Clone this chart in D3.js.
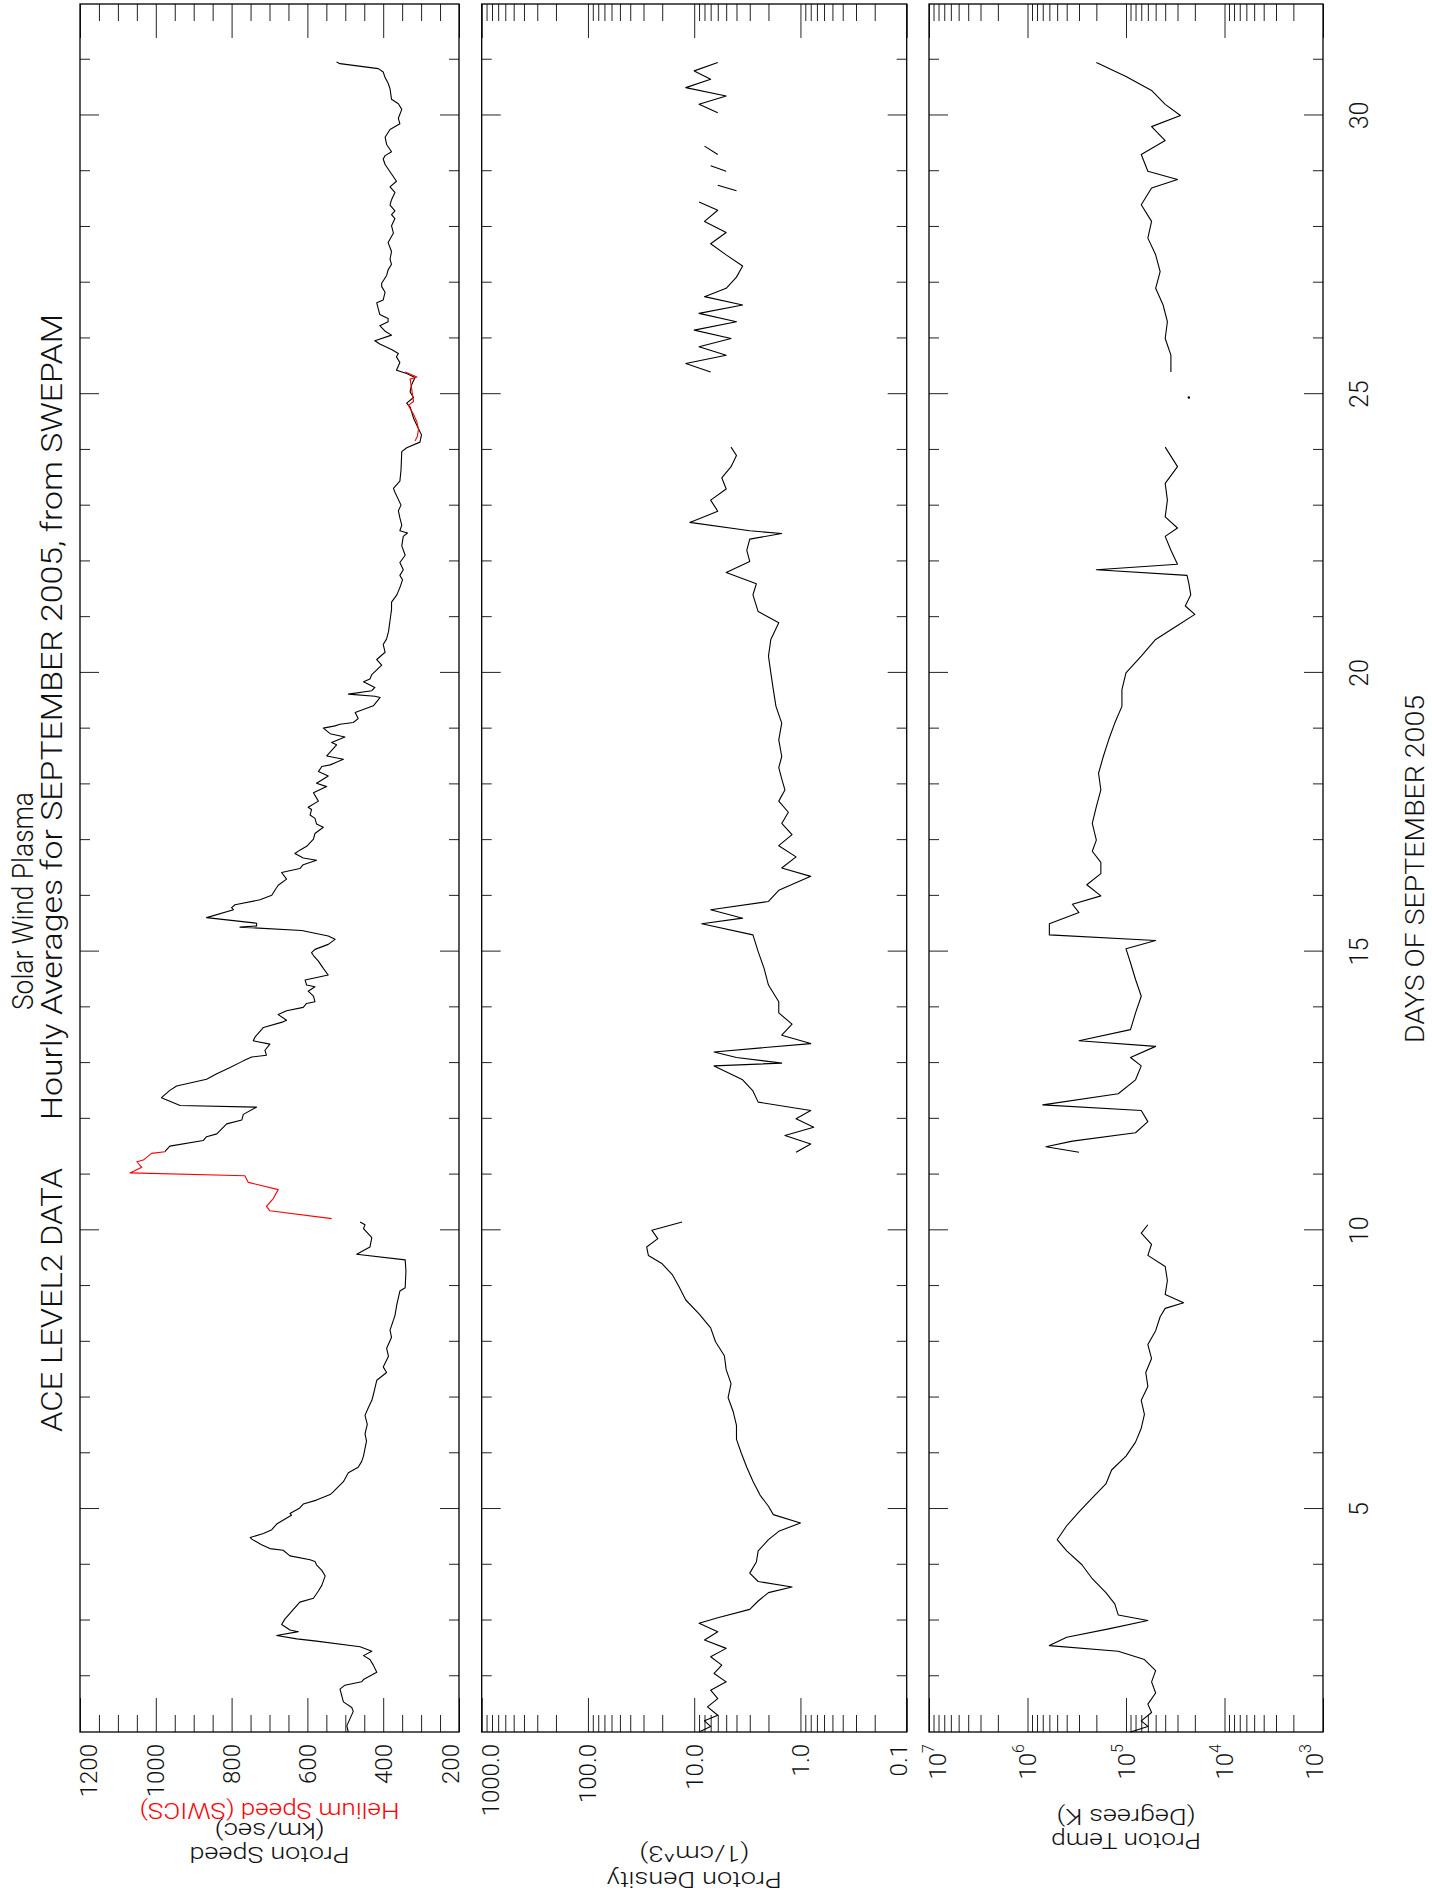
<!DOCTYPE html>
<html lang="en">
<head>
<meta charset="UTF-8">
<title>ACE Solar Wind Plasma - September 2005</title>
<script src="https://d3js.org/d3.v7.min.js"></script>
<style>
  html, body { margin: 0; padding: 0; background: #fff; }
  text { font-family: Roboto, "Liberation Sans", sans-serif; font-weight: 300; fill: #111; }
</style>
</head>
<body>
<div id="chart"></div>
<script>
// hourly averages, [day of September 2005, value]; null marks a data gap
const protonSpeed = [
  [1.00,492],[1.11,496],[1.37,479],[1.44,483],[1.54,505],[1.77,514],[1.84,501],[1.90,457],[1.94,452],[2.07,417],[2.20,426],[2.30,435],[2.37,452],[2.45,430],[2.53,461],[2.63,576],[2.67,628],[2.73,681],[2.80,624],[2.83,646],[2.93,668],[3.03,659],[3.13,646],[3.20,637],[3.33,620],[3.40,584],[3.53,571],[3.63,562],[3.80,553],[3.90,562],[4.00,576],[4.06,580],[4.09,593],[4.16,646],[4.26,664],[4.29,699],[4.36,721],[4.46,747],[4.49,751],[4.56,716],[4.63,694],[4.73,681],[4.82,659],[4.89,642],[4.92,646],[5.02,620],[5.09,611],[5.16,576],[5.26,540],[5.32,530],[5.49,505],[5.65,492],[5.75,466],[5.85,457],[5.95,452],[6.09,448],[6.22,444],[6.35,448],[6.52,442],[6.68,448],[6.82,439],[6.95,430],[7.05,426],[7.31,417],[7.45,391],[7.55,400],[7.74,386],[7.88,391],[8.08,378],[8.21,382],[8.47,369],[8.67,364],[8.91,356],[8.97,342],[9.27,340],[9.47,342],[9.57,470],[9.70,435],[9.87,430],[10.03,452],[10.10,448],[10.15,461],
  null,
  [11.41,976],[11.51,963],[11.61,875],[11.68,866],[11.73,839],[11.91,813],[11.98,773],[12.08,769],[12.21,734],[12.24,936],[12.38,985],[12.51,963],[12.59,945],[12.71,866],[12.81,839],[12.92,804],[13.04,769],[13.11,747],[13.14,708],[13.23,712],[13.34,699],[13.40,743],[13.47,738],[13.60,721],[13.64,716],[13.74,664],[13.77,655],[13.87,677],[13.94,655],[14.00,611],[14.07,602],[14.10,580],[14.20,584],[14.29,598],[14.37,580],[14.40,602],[14.49,606],[14.58,545],[14.70,558],[14.83,571],[14.93,584],[14.98,589],[15.04,580],[15.13,545],[15.22,527],[15.28,545],[15.38,615],[15.44,778],[15.46,734],[15.51,734],[15.61,866],[15.75,795],[15.79,800],[15.84,791],[15.93,725],[16.01,694],[16.11,685],[16.19,677],[16.30,655],[16.42,668],[16.49,620],[16.56,611],[16.64,576],[16.68,611],[16.76,633],[16.82,620],[16.89,602],[17.02,584],[17.12,580],[17.23,558],[17.29,576],[17.39,580],[17.45,593],[17.55,589],[17.59,598],[17.70,571],[17.85,584],[17.92,562],[17.96,549],[18.02,576],[18.08,562],[18.15,545],[18.23,571],[18.32,562],[18.35,540],[18.45,505],[18.51,549],[18.58,540],[18.71,523],[18.75,536],[18.85,501],[18.91,540],[19.01,558],[19.05,527],[19.08,514],[19.11,479],[19.18,466],[19.29,474],[19.41,426],[19.56,408],[19.58,422],[19.62,492],[19.68,430],[19.74,422],[19.84,452],[19.89,435],[19.97,430],[20.14,404],[20.24,417],[20.37,395],[20.51,400],[20.61,391],[20.74,386],[20.94,382],[21.14,378],[21.27,378],[21.40,364],[21.53,356],[21.67,349],[21.75,356],[21.85,347],[21.98,356],[22.11,342],[22.28,351],[22.45,347],[22.51,336],[22.55,356],[22.65,351],[22.78,356],[22.91,360],[23.01,353],[23.24,369],[23.31,373],[23.44,356],[23.64,353],[23.97,351],[24.04,338],[24.14,303],[24.27,299],[24.44,311],[24.57,320],[24.77,329],[24.84,338],[24.94,320],[25.04,329],[25.17,325],[25.30,316],[25.37,338],[25.43,365],[25.57,356],[25.67,365],[25.73,360],[25.80,378],[25.90,409],[25.96,422],[26.06,378],[26.13,395],[26.23,409],[26.30,387],[26.36,387],[26.43,409],[26.53,413],[26.64,417],[26.69,400],[26.83,395],[26.93,404],[26.99,404],[27.13,391],[27.23,387],[27.33,378],[27.42,382],[27.56,378],[27.72,387],[27.89,373],[28.02,378],[28.15,369],[28.22,378],[28.29,369],[28.39,382],[28.49,378],[28.62,369],[28.72,382],[28.82,365],[28.95,378],[29.12,395],[29.22,400],[29.28,395],[29.35,378],[29.48,391],[29.61,395],[29.75,382],[29.85,356],[29.95,360],[30.11,351],[30.21,360],[30.29,378],[30.48,382],[30.58,387],[30.68,395],[30.78,400],[30.84,413],[30.93,514],[30.96,523]
];

const heliumSpeed = [
  [10.21,536],[10.35,699],[10.43,708],[10.57,690],[10.73,677],[10.86,756],[10.98,765],[11.03,1068],[11.13,1037],[11.23,1050],[11.26,1033],[11.38,1011],[11.41,976],
  null,
  [24.16,316],[24.24,310],[24.37,307],[24.50,311],[24.64,320],[24.80,334],[24.87,320],[25.10,325],[25.27,329],[25.31,311],[25.40,342]
];

const protonDensity = [
  [1.00,9],[1.10,7],[1.20,8],[1.30,6],[1.45,7.5],[1.60,6],[1.75,7],[1.90,5],[2.05,6.5],[2.20,5.5],[2.35,7],[2.50,5],[2.65,8],[2.80,6],[2.95,9],[3.05,6],[3.20,3],[3.35,2.5],[3.50,2],[3.60,1.2],[3.70,2.5],[3.85,3],[4.05,2.6],[4.25,2.5],[4.45,2],[4.60,1.6],[4.75,1.0],[4.90,1.8],[5.05,2],[5.25,2.4],[5.50,2.8],[5.75,3.2],[6.00,3.6],[6.25,4],[6.50,4],[6.75,4.3],[7.00,4.8],[7.25,4.5],[7.50,5],[7.75,5.2],[8.00,6.3],[8.25,7],[8.50,9],[8.75,12],[9.00,14],[9.20,16],[9.40,20],[9.55,27],[9.70,28],[9.85,22],[10.00,25],[10.15,13],
  null,
  [11.40,1.1],[11.55,0.8],[11.70,1.4],[11.85,0.75],[12.00,1.1],[12.15,0.8],[12.30,2.5],[12.50,2.8],[12.70,3.5],[12.95,6.5],[13.00,1.5],[13.10,4],[13.20,6.5],[13.35,0.8],[13.50,1.5],[13.70,1.2],[13.90,1.6],[14.10,1.6],[14.40,2],[14.70,2.2],[15.00,2.5],[15.30,2.8],[15.50,8.5],[15.60,3.5],[15.75,7],[15.90,2],[16.10,1.6],[16.35,0.8],[16.50,1.5],[16.70,1.1],[16.90,1.6],[17.10,1.2],[17.30,1.5],[17.50,1.3],[17.70,1.6],[17.90,1.4],[18.10,1.5],[18.30,1.6],[18.50,1.5],[18.80,1.6],[19.10,1.5],[19.40,1.7],[19.70,1.8],[20.00,1.9],[20.30,2],[20.60,1.9],[20.90,1.6],[21.10,2.5],[21.40,2.8],[21.60,2.6],[21.80,5],[22.00,3],[22.20,3.2],[22.40,3],[22.50,1.5],[22.55,3],[22.70,11],[22.90,6],[23.10,7],[23.30,5],[23.50,5.5],[23.70,4.5],[23.90,4],[24.05,4.5],
  null,
  [25.40,7],[25.55,12],[25.70,5],[25.85,9],[26.00,4.5],[26.15,10],[26.30,4],[26.45,9],[26.60,3.5],[26.75,8],[26.90,5],[27.10,4],[27.30,3.5],[27.50,5],[27.70,7],[27.90,5],[28.10,8],[28.30,6],[28.45,9],
  null,
  [28.65,4],[28.75,6],
  null,
  [29.00,5],[29.10,7],
  null,
  [29.30,6],[29.45,8],
  null,
  [30.05,6],[30.20,9],[30.35,5],[30.50,12],[30.65,7],[30.80,10],[30.95,6]
];

const protonTemp = [
  [1.00,9e4],[1.10,6e4],[1.20,7e4],[1.35,5.5e4],[1.50,6e4],[1.70,5e4],[1.90,5.5e4],[2.10,5e4],[2.30,6.5e4],[2.45,1.2e5],[2.55,6e5],[2.70,4e5],[2.85,1.5e5],[3.00,6e4],[3.10,1.2e5],[3.30,1.3e5],[3.50,1.6e5],[3.75,2.2e5],[4.00,2.8e5],[4.25,4e5],[4.45,5e5],[4.70,4e5],[4.95,3e5],[5.20,2.2e5],[5.45,1.6e5],[5.70,1.4e5],[5.95,1e5],[6.20,8e4],[6.45,7e4],[6.70,6.5e4],[6.95,7e4],[7.20,6e4],[7.45,6.3e4],[7.70,5.5e4],[7.95,6e4],[8.20,5e4],[8.45,4.5e4],[8.60,4e4],[8.70,2.6e4],[8.85,4e4],[9.10,3.8e4],[9.35,4e4],[9.55,6e4],[9.75,5.5e4],[9.95,7e4],[10.10,6e4],
  null,
  [11.40,3e5],[11.50,6.5e5],[11.60,3.5e5],[11.75,8e4],[11.95,6e4],[12.15,7e4],[12.25,7e5],[12.45,1.2e5],[12.70,8e4],[12.95,7e4],[13.10,9e4],[13.30,5e4],[13.40,3e5],[13.60,9e4],[13.90,8e4],[14.20,7e4],[14.50,8e4],[14.80,9e4],[15.05,1e5],[15.20,5e4],[15.30,6e5],[15.50,6e5],[15.70,3e5],[15.85,3.5e5],[16.00,1.8e5],[16.20,2.5e5],[16.40,1.8e5],[16.60,1.8e5],[16.80,2.2e5],[17.00,2e5],[17.30,2.2e5],[17.60,2e5],[17.90,1.8e5],[18.20,1.9e5],[18.50,1.7e5],[18.80,1.5e5],[19.10,1.3e5],[19.40,1.1e5],[19.70,1.1e5],[20.00,1e5],[20.30,7e4],[20.60,5e4],[20.85,3e4],[21.05,2e4],[21.20,2.5e4],[21.40,2.2e4],[21.60,2.3e4],[21.75,2.4e4],[21.85,2e5],[21.95,3e4],[22.20,3.5e4],[22.45,4e4],[22.60,3e4],[22.80,4e4],[23.10,3.8e4],[23.40,4e4],[23.70,3e4],[24.05,4e4],
  null,
  [25.40,3.5e4],[25.70,3.5e4],[26.00,4e4],[26.30,3.8e4],[26.60,4.2e4],[26.90,5e4],[27.20,4.5e4],[27.50,5e4],[27.80,6e4],[28.10,5.5e4],[28.40,7e4],[28.70,5.5e4],[28.85,3e4],[29.00,6e4],[29.30,7e4],[29.55,4e4],[29.80,5.5e4],[30.00,2.8e4],[30.20,4e4],[30.45,5.5e4],[30.70,1e5],[30.95,2e5]
];
const protonTempDots = [[24.94,2.3e4]];

const dayLabels = [5, 10, 15, 20, 25, 30];
const speedLabels = [1200, 1000, 800, 600, 400, 200];
const densityLabels = [1000, 100, 10, 1, 0.1];
const tempExponents = [7, 6, 5, 4, 3];

// the plot is built upright (days along x) and then turned a quarter turn
const svg = d3.select('#chart').append('svg')
  .attr('width', 1432)
  .attr('height', 1902);
const g = svg.append('g').attr('transform', 'translate(0,1902) rotate(-90)');

const x = d3.scaleLinear().domain([1, 32]).range([170, 1898]);

function logMinor(lo, hi) {
  const out = [];
  for (let e = lo; e < hi; e++) {
    for (let k = 2; k <= 9; k++) out.push(k * Math.pow(10, e));
  }
  return out;
}

const panels = [
  {
    y: d3.scaleLinear().domain([200, 1200]).range([459, 80]),
    top: 80, bottom: 459,
    major: d3.range(200, 1201, 200), minor: d3.range(250, 1200, 50).filter(d => d % 200),
    labels: speedLabels.map(v => ({ v: v, t: String(v) })),
    titles: [
      { t: 'Proton Speed', x: 55, len: 160 },
      { t: '(km/sec)', x: 79, len: 110 },
      { t: 'Helium Speed (SWICS)', x: 99, len: 260, color: '#ff0000' }
    ],
    series: [{ data: protonSpeed, color: '#000' }, { data: heliumSpeed, color: '#ff0000' }]
  },
  {
    y: d3.scaleLog().domain([0.1, 1000]).range([906.7, 481.7]),
    top: 481.7, bottom: 906.7,
    major: [0.1, 1, 10, 100, 1000], minor: logMinor(-1, 3),
    labels: densityLabels.map(v => ({ v: v, t: v.toFixed(1) })),
    titles: [
      { t: 'Proton Density', x: 30, len: 175 },
      { t: '(1/cm^3)', x: 56, len: 110 }
    ],
    series: [{ data: protonDensity, color: '#000' }]
  },
  {
    y: d3.scaleLog().domain([1e3, 1e7]).range([1323, 929]),
    top: 929, bottom: 1323,
    major: [1e3, 1e4, 1e5, 1e6, 1e7], minor: logMinor(3, 7),
    labels: tempExponents.map(e => ({ v: Math.pow(10, e), t: '10', sup: String(e) })),
    titles: [
      { t: 'Proton Temp', x: 69, len: 150 },
      { t: '(Degrees K)', x: 93, len: 139 }
    ],
    series: [{ data: protonTemp, color: '#000' }],
    dots: protonTempDots
  }
];

function stripDomain(sel) { sel.select('.domain').remove(); }

panels.forEach((p, pi) => {
  const pg = g.append('g');

  // day ticks on both long edges, pointing inward
  const minorDays = d3.range(2, 32).filter(d => d % 5);
  const majorDays = d3.range(5, 32, 5);
  [[minorDays, 10], [majorDays, 19]].forEach(([vals, len]) => {
    pg.append('g').attr('transform', `translate(0,${p.top})`)
      .call(d3.axisBottom(x).tickValues(vals).tickSize(len).tickFormat(''))
      .call(stripDomain);
    pg.append('g').attr('transform', `translate(0,${p.bottom})`)
      .call(d3.axisTop(x).tickValues(vals).tickSize(len).tickFormat(''))
      .call(stripDomain);
  });

  // value ticks on both short edges, pointing inward
  [[p.minor, 17], [p.major, 34]].forEach(([vals, len]) => {
    pg.append('g').attr('transform', 'translate(170,0)')
      .call(d3.axisRight(p.y).tickValues(vals).tickSize(len).tickFormat(''))
      .call(stripDomain);
    pg.append('g').attr('transform', 'translate(1898,0)')
      .call(d3.axisLeft(p.y).tickValues(vals).tickSize(len).tickFormat(''))
      .call(stripDomain);
  });
  pg.selectAll('.tick line').attr('stroke', '#222').attr('stroke-width', 1);

  pg.append('rect')
    .attr('x', 170).attr('y', p.top)
    .attr('width', 1898 - 170).attr('height', p.bottom - p.top)
    .attr('fill', 'none').attr('stroke', '#000').attr('stroke-width', 1.3);

  // value labels; the end ones are pulled inside the panel
  p.labels.forEach((d, i) => {
    let base = p.y(d.v) + 8.5;
    if (i === 0) base = p.top + 17;
    if (i === p.labels.length - 1) base = p.bottom;
    const t = pg.append('text')
      .attr('x', 158).attr('y', base)
      .attr('text-anchor', 'end')
      .style('font-size', '24px')
      .text(d.t);
    if (d.sup) {
      t.append('tspan').attr('dy', -12).style('font-size', '16px').text(d.sup);
    }
  });

  // axis titles, turned like a y axis title
  const cy = (p.top + p.bottom) / 2;
  p.titles.forEach(tt => {
    pg.append('text')
      .attr('transform', `translate(${tt.x},${cy}) rotate(-90)`)
      .attr('text-anchor', 'middle')
      .attr('textLength', tt.len)
      .attr('lengthAdjust', 'spacingAndGlyphs')
      .style('font-size', '22px')
      .style('fill', tt.color || '#111')
      .text(tt.t);
  });

  const line = d3.line()
    .defined(d => d !== null)
    .x(d => x(d[0]))
    .y(d => p.y(d[1]));
  p.series.forEach(s => {
    pg.append('path')
      .attr('d', line(s.data))
      .attr('fill', 'none')
      .attr('stroke', s.color)
      .attr('stroke-width', 1.1)
      .attr('stroke-linejoin', 'round');
  });
  if (p.dots) {
    pg.selectAll('circle.dot').data(p.dots).enter().append('circle')
      .attr('class', 'dot')
      .attr('cx', d => x(d[0])).attr('cy', d => p.y(d[1]))
      .attr('r', 1.2).attr('fill', '#000');
  }
});

// day labels below the last panel
g.selectAll('text.day').data(dayLabels).enter().append('text')
  .attr('class', 'day')
  .attr('x', d => x(d)).attr('y', 1368)
  .attr('text-anchor', 'middle')
  .style('font-size', '25px')
  .text(d => d);

g.append('text')
  .attr('x', 859).attr('y', 1424)
  .attr('textLength', 348).attr('lengthAdjust', 'spacingAndGlyphs')
  .style('font-size', '26px')
  .text('DAYS  OF  SEPTEMBER 2005');

// title lines
g.append('text')
  .attr('x', 892).attr('y', 33)
  .attr('textLength', 218).attr('lengthAdjust', 'spacingAndGlyphs')
  .style('font-size', '29px')
  .text('Solar Wind Plasma');
g.append('text')
  .attr('x', 470).attr('y', 62)
  .attr('textLength', 264).attr('lengthAdjust', 'spacingAndGlyphs')
  .style('font-size', '29px')
  .text('ACE LEVEL2 DATA');
g.append('text')
  .attr('x', 782).attr('y', 62)
  .attr('textLength', 806).attr('lengthAdjust', 'spacingAndGlyphs')
  .style('font-size', '29px')
  .text('Hourly Averages for SEPTEMBER 2005, from SWEPAM');
</script>
</body>
</html>
